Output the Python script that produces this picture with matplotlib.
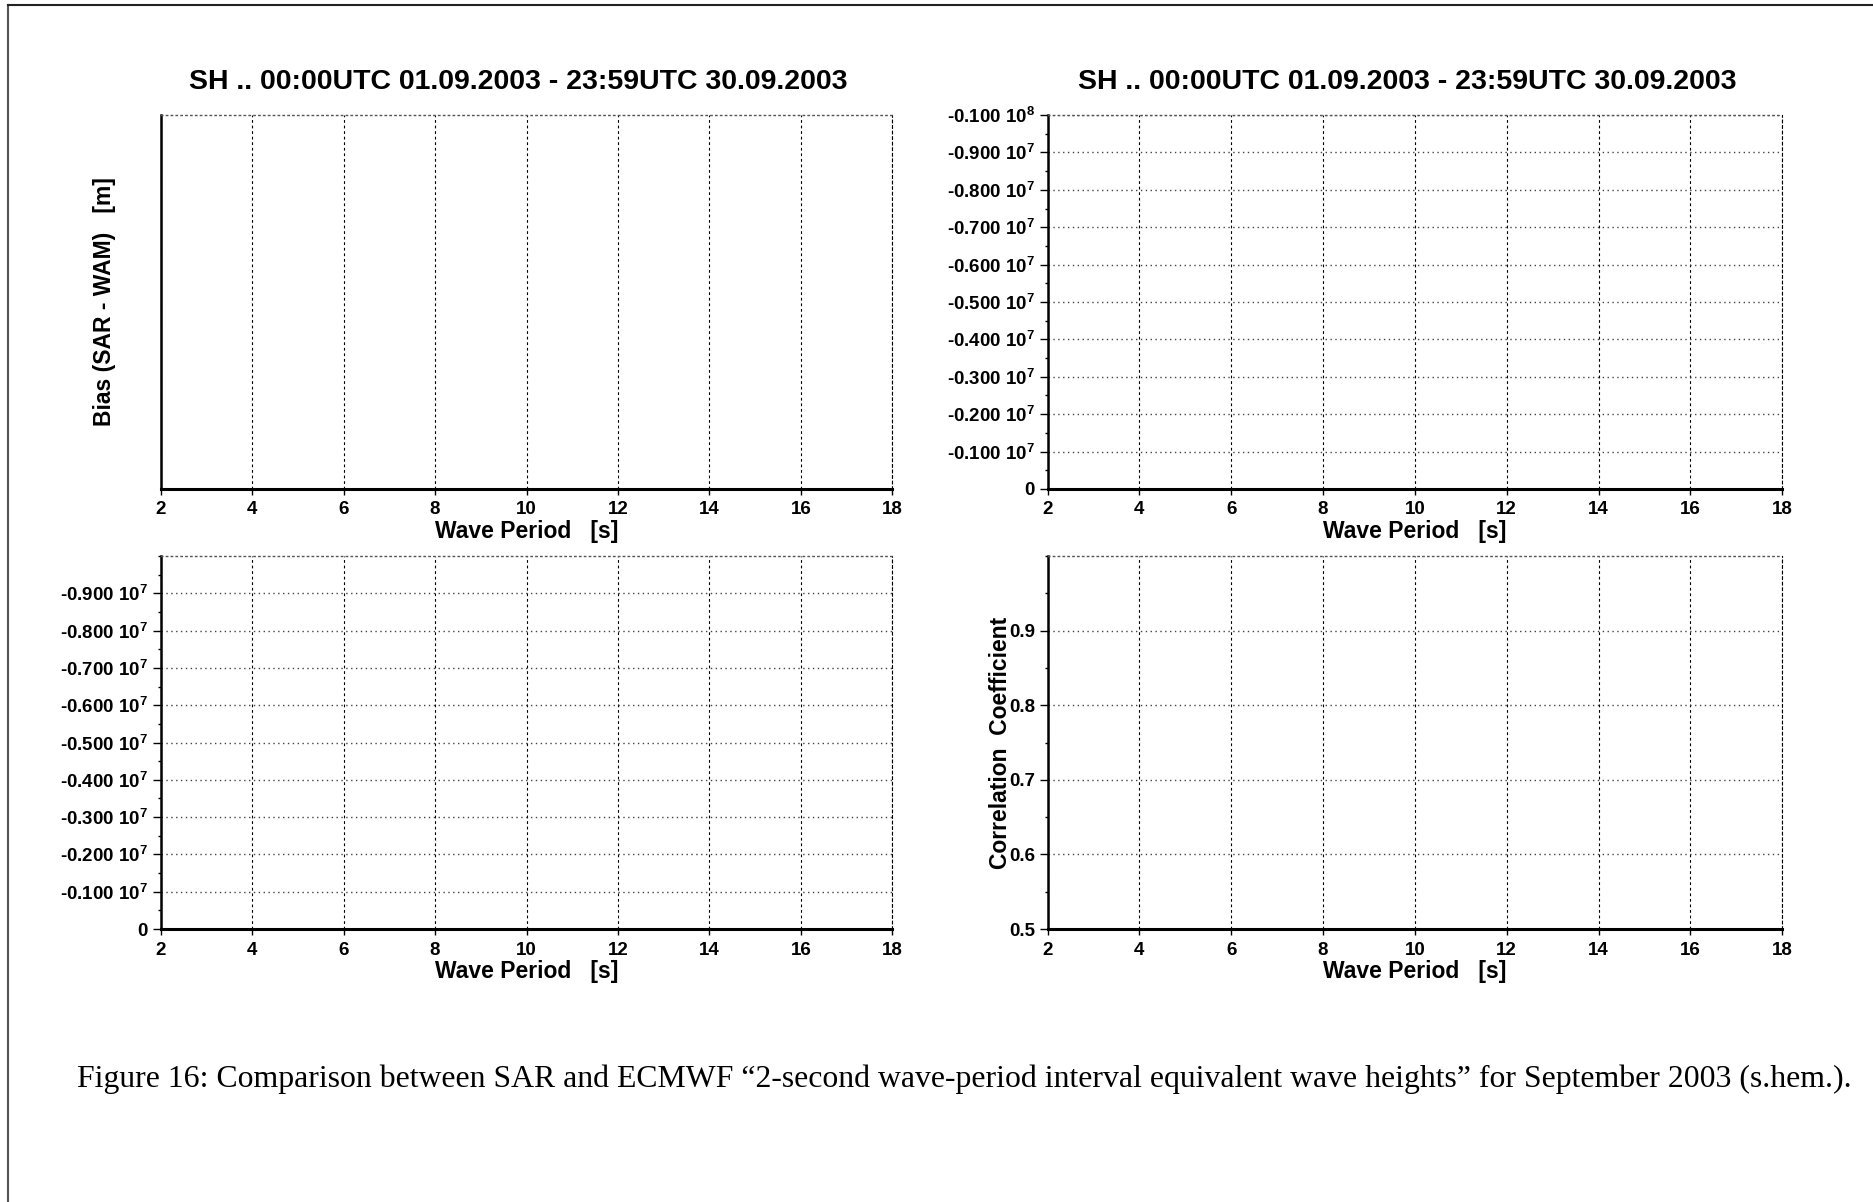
import numpy as np
import matplotlib.pyplot as plt
from matplotlib.ticker import FixedLocator, FuncFormatter, MultipleLocator
from matplotlib.lines import Line2D

plt.rcParams['font.family'] = ['Liberation Sans', 'DejaVu Sans']
plt.rcParams['font.weight'] = 'bold'
plt.rcParams['axes.labelweight'] = 'bold'
plt.rcParams['mathtext.fontset'] = 'custom'
plt.rcParams['mathtext.rm'] = 'Liberation Sans:bold'
plt.rcParams['mathtext.bf'] = 'Liberation Sans:bold'
plt.rcParams['mathtext.it'] = 'Liberation Sans:bold'
plt.rcParams['mathtext.default'] = 'bf'

# texts
title = 'SH .. 00:00UTC 01.09.2003 - 23:59UTC 30.09.2003'
xlabel = 'Wave Period   [s]'
bias_label = 'Bias (SAR - WAM)   [m]'
corr_label = 'Correlation  Coefficient'
caption = ('Figure 16: Comparison between SAR and ECMWF \u201c2-second wave-period '
           'interval equivalent wave heights\u201d for September 2003 (s.hem.).')

# axes values
period_ticks = [2, 4, 6, 8, 10, 12, 14, 16, 18]
upper_ticks = [0, -1e6, -2e6, -3e6, -4e6, -5e6, -6e6, -7e6, -8e6, -9e6, -1e7]
lower_ticks = [0, -1e6, -2e6, -3e6, -4e6, -5e6, -6e6, -7e6, -8e6, -9e6]
big_limits = [0, -1e7]
corr_ticks = [0.5, 0.6, 0.7, 0.8, 0.9]
corr_limits = [0.5, 1.0]

# no interval had data this month -> all series empty
periods = []
bias = []
upper_vals = []
lower_vals = []
corr = []

W, H = 1873, 1202
fig = plt.figure(figsize=(W / 100, H / 100), dpi=100)

ax_tl = fig.add_axes([0.0857, 0.5932, 0.3908, 0.3111])
ax_tr = fig.add_axes([0.5593, 0.5932, 0.3922, 0.3111])
ax_bl = fig.add_axes([0.0857, 0.2271, 0.3908, 0.3103])
ax_br = fig.add_axes([0.5593, 0.2271, 0.3922, 0.3103])


def sci_label(v, pos):
    if v == 0:
        return '0'
    e = int(np.floor(np.log10(abs(v)))) + 1
    return '%.3f 10$^{%d}$' % (v / 10.0**e, e)


def style(ax):
    ax.set_xlim(period_ticks[0], period_ticks[-1])
    ax.xaxis.set_major_locator(FixedLocator(period_ticks))
    ax.spines['left'].set_linewidth(1.8)
    ax.spines['bottom'].set_linewidth(2.2)
    ax.spines['top'].set_linestyle((0, (1, 2.5)))
    ax.spines['top'].set_color('#555555')
    ax.spines['top'].set_linewidth(1.0)
    ax.spines['right'].set_linestyle((0, (2.5, 2.5)))
    ax.spines['right'].set_linewidth(0.8)
    ax.tick_params(axis='x', direction='out', length=4, width=1, pad=5, labelsize=13.5)
    ax.tick_params(axis='y', which='major', direction='out', length=6, width=1, pad=3, labelsize=13.5)
    ax.tick_params(axis='y', which='minor', direction='out', length=2.5, width=1)
    ax.grid(axis='x', which='major', linestyle=(0, (2.5, 2.5)), linewidth=0.8, color='black')
    ax.grid(axis='y', which='major', linestyle=(0, (1, 2.5)), linewidth=1.0, color='#444444')
    ax.set_xlabel(xlabel, fontsize=16.5, fontweight='bold', labelpad=1)
    ax.set_axisbelow(True)


def bold_ticks(ax):
    for t in ax.get_xticklabels() + ax.get_yticklabels():
        t.set_fontweight('bold')


# bias panel
ax_tl.plot(periods, bias, color='black')
style(ax_tl)
ax_tl.set_yticks([])
ax_tl.set_ylim(-1, 1)
ax_tl.set_ylabel(bias_label, fontsize=16.5, fontweight='bold', va='center')
ax_tl.yaxis.set_label_coords(-0.0764, 0.5)
ax_tl.set_title(title, fontsize=20.5, fontweight='bold', pad=19, x=0.489)

# upper right panel
ax_tr.plot(periods, upper_vals, color='black')
style(ax_tr)
ax_tr.set_ylim(*big_limits)
ax_tr.yaxis.set_major_locator(FixedLocator(upper_ticks))
ax_tr.yaxis.set_minor_locator(MultipleLocator(5e5))
ax_tr.yaxis.set_major_formatter(FuncFormatter(sci_label))
ax_tr.set_title(title, fontsize=20.5, fontweight='bold', pad=19, x=0.489)

# lower left panel
ax_bl.plot(periods, lower_vals, color='black')
style(ax_bl)
ax_bl.set_ylim(*big_limits)
ax_bl.yaxis.set_major_locator(FixedLocator(lower_ticks))
ax_bl.yaxis.set_minor_locator(MultipleLocator(5e5))
ax_bl.yaxis.set_major_formatter(FuncFormatter(sci_label))

# correlation panel
ax_br.plot(periods, corr, color='black')
style(ax_br)
ax_br.set_ylim(*corr_limits)
ax_br.yaxis.set_major_locator(FixedLocator(corr_ticks))
ax_br.yaxis.set_minor_locator(MultipleLocator(0.05))
ax_br.yaxis.set_major_formatter(FuncFormatter(lambda v, p: '%.1f' % v))
ax_br.set_ylabel(corr_label, fontsize=16.5, fontweight='bold', va='center')
ax_br.yaxis.set_label_coords(-0.0645, 0.5)

# page frame
fig.add_artist(Line2D([7.5 / W, 7.5 / W], [0, 1 - 5 / H], transform=fig.transFigure,
                      color='#555555', linewidth=1.5))
fig.add_artist(Line2D([7.5 / W, 1], [1 - 5 / H, 1 - 5 / H], transform=fig.transFigure,
                      color='#222222', linewidth=1.5))

fig.text(0.515, 0.1023, caption, ha='center', va='center', fontsize=22.9,
         family=['Liberation Serif', 'DejaVu Serif'], fontweight='normal')

fig.canvas.draw()
for a in (ax_tl, ax_tr, ax_bl, ax_br):
    bold_ticks(a)

fig.savefig('out.png', dpi=100)
